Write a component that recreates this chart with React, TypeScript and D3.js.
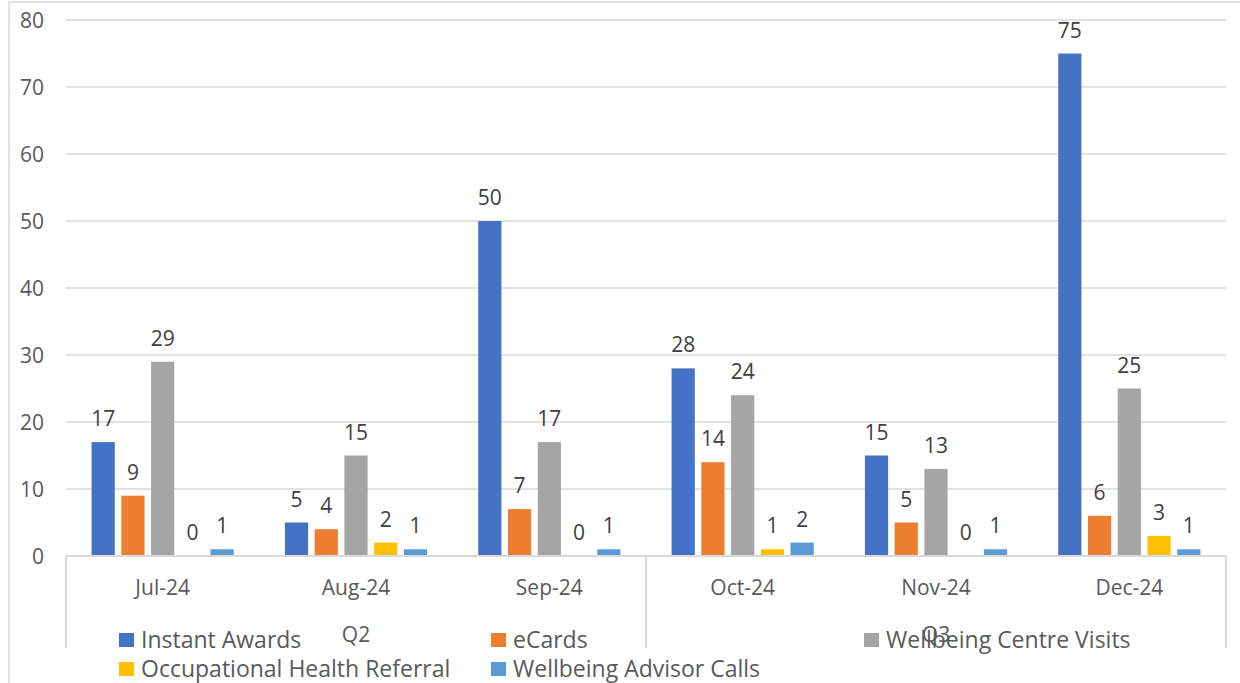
import React from "react";
import * as d3 from "d3";

const months = ["Jul-24", "Aug-24", "Sep-24", "Oct-24", "Nov-24", "Dec-24"];
const quarters = ["Q2", "Q3"];
const seriesNames = [
  "Instant Awards",
  "eCards",
  "Wellbeing Centre Visits",
  "Occupational Health Referral",
  "Wellbeing Advisor Calls",
];
const instantAwards = [17, 5, 50, 28, 15, 75];
const eCards = [9, 4, 7, 14, 5, 6];
const wellbeingCentreVisits = [29, 15, 17, 24, 13, 25];
const occupationalHealthReferral = [0, 2, 0, 1, 0, 3];
const wellbeingAdvisorCalls = [1, 1, 1, 2, 1, 1];
const yTicks = [0, 10, 20, 30, 40, 50, 60, 70, 80];

const seriesValues = [
  instantAwards,
  eCards,
  wellbeingCentreVisits,
  occupationalHealthReferral,
  wellbeingAdvisorCalls,
];
const colors = ["#4472C4", "#ED7D31", "#A5A5A5", "#FFC000", "#5B9BD5"];

const W = 1240;
const H = 683;
const left = 66;
const right = 1226;
const top = 20;
const bottom = 556;
const axisBottom = 648;
const FONT = "'Open Sans', sans-serif";
const TEXT = "#595959";

export default function App() {
  const x = d3.scaleBand<string>().domain(months).range([left, right]).padding(0);
  const xs = d3
    .scaleBand<string>()
    .domain(seriesNames)
    .range([0, x.bandwidth()])
    .paddingInner(0.22)
    .paddingOuter(0.86);
  const y = d3.scaleLinear().domain([0, 80]).range([bottom, top]);

  const qWidth = (right - left) / quarters.length;

  const legendItems = [
    { name: seriesNames[0], color: colors[0], x: 119, y: 633 },
    { name: seriesNames[1], color: colors[1], x: 491, y: 633 },
    { name: seriesNames[2], color: colors[2], x: 864, y: 633 },
    { name: seriesNames[3], color: colors[3], x: 119, y: 662 },
    { name: seriesNames[4], color: colors[4], x: 491, y: 662 },
  ];

  return (
    <svg
      width={W}
      height={H}
      style={{ position: "absolute", left: 0, top: 0, background: "#fff" }}
      fontFamily={FONT}
    >
      <rect x={0} y={0} width={W} height={H} fill="#fff" />
      {/* outer chart border */}
      <line x1={9} x2={9} y1={2} y2={H} stroke="#D9D9D9" strokeWidth={1.5} />
      <line x1={9} x2={W} y1={2} y2={2} stroke="#D9D9D9" strokeWidth={1.5} />

      {/* gridlines */}
      {yTicks.map((t) => (
        <g key={t}>
          {t > 0 && (
            <line x1={left} x2={right} y1={y(t)} y2={y(t)} stroke="#D9D9D9" strokeWidth={1.5} />
          )}
          <text
            x={44}
            y={y(t)}
            textAnchor="end"
            dominantBaseline="central"
            fontSize={21}
            fill={TEXT}
          >
            {t}
          </text>
        </g>
      ))}

      {/* bars */}
      {seriesValues.map((vals, si) =>
        months.map((m, mi) => {
          const bx = (x(m) as number) + (xs(seriesNames[si]) as number);
          const v = vals[mi];
          return (
            <g key={`${si}-${mi}`}>
              <rect
                x={bx}
                y={y(v)}
                width={xs.bandwidth()}
                height={bottom - y(v)}
                fill={colors[si]}
              />
              <text
                x={bx + xs.bandwidth() / 2}
                y={y(v) - 24}
                textAnchor="middle"
                dominantBaseline="central"
                fontSize={21}
                fill="#404040"
              >
                {v}
              </text>
            </g>
          );
        })
      )}

      {/* axis lines */}
      <line x1={left} x2={right} y1={bottom} y2={bottom} stroke="#D9D9D9" strokeWidth={2} />
      {[0, 1, 2].map((i) => (
        <line
          key={i}
          x1={left + i * qWidth}
          x2={left + i * qWidth}
          y1={bottom}
          y2={axisBottom}
          stroke="#D9D9D9"
          strokeWidth={2}
        />
      ))}

      {/* category labels */}
      {months.map((m) => (
        <text
          key={m}
          x={(x(m) as number) + x.bandwidth() / 2}
          y={587}
          textAnchor="middle"
          dominantBaseline="central"
          fontSize={21}
          fill={TEXT}
        >
          {m}
        </text>
      ))}
      {quarters.map((q, i) => (
        <text
          key={q}
          x={left + qWidth * (i + 0.5)}
          y={634}
          textAnchor="middle"
          dominantBaseline="central"
          fontSize={21}
          fill={TEXT}
        >
          {q}
        </text>
      ))}

      {/* legend */}
      {legendItems.map((it) => (
        <g key={it.name}>
          <rect x={it.x} y={it.y} width={15} height={14} fill={it.color} />
          <text
            x={it.x + 22}
            y={it.y + 6}
            dominantBaseline="central"
            fontSize={23}
            fill={TEXT}
          >
            {it.name}
          </text>
        </g>
      ))}
    </svg>
  );
}
